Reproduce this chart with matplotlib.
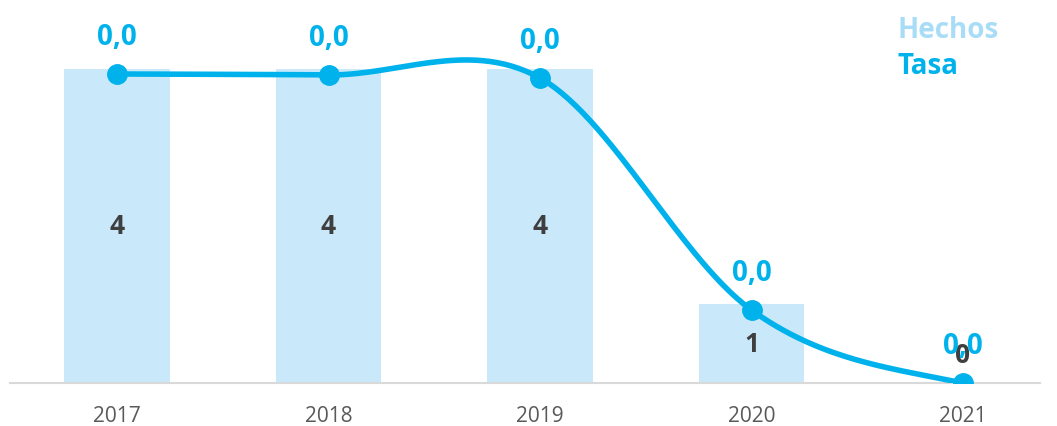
import numpy as np
import matplotlib
matplotlib.use("Agg")
import matplotlib.pyplot as plt

years = ["2017", "2018", "2019", "2020", "2021"]
hechos = [4, 4, 4, 1, 0]
tasa = [0.0130, 0.01296, 0.01283, 0.00307, 0.0]
tasa_labels = ["0,0", "0,0", "0,0", "0,0", "0,0"]

BAR = "#c9e9fb"
LINE = "#00b2ec"
LEG_H = "#a9ddf7"
DARK = "#3f3f3f"
GRAY = "#595959"

plt.rcParams['font.family'] = ['Open Sans', 'DejaVu Sans']

fig = plt.figure(figsize=(10.57, 4.27), dpi=100)
ax = fig.add_axes([10/1057, 43/427, 1030/1057, 384/427])
x = np.arange(len(years))
ax.bar(x, hechos, width=0.5, color=BAR, zorder=1)
ax.set_xlim(-0.506, 4.364)
ax.set_ylim(0, 4.89)
for s in ["top", "right", "left"]:
    ax.spines[s].set_visible(False)
ax.spines["bottom"].set_color("#d9d9d9")
ax.spines["bottom"].set_linewidth(1.5)
ax.set_yticks([])
ax.set_xticks(x)
ax.set_xticklabels(years, fontsize=15, color=GRAY)
ax.tick_params(axis="x", length=0, pad=16)

for xi, v in zip(x, hechos):
    ypos = v / 2 if v > 0 else 0.36
    ax.text(xi, ypos, str(v), ha="center", va="center", fontsize=19,
            fontweight="bold", color=DARK, zorder=4)

ax2 = ax.twinx()
ax2.set_ylim(0, 0.0130 * 384 / 309)
ax2.set_axis_off()

# Catmull-Rom style smooth curve through points
xs = np.array(x, dtype=float)
ys = np.array(tasa, dtype=float)
n = len(xs)
m = np.zeros(n)
for i in range(n):
    if i == 0:
        m[i] = (ys[1] - ys[0])
    elif i == n - 1:
        m[i] = (ys[-1] - ys[-2]) * 0.6
    else:
        m[i] = (ys[i + 1] - ys[i - 1]) / 2
cx, cy = [], []
for i in range(n - 1):
    t = np.linspace(0, 1, 60)
    h00 = 2*t**3 - 3*t**2 + 1
    h10 = t**3 - 2*t**2 + t
    h01 = -2*t**3 + 3*t**2
    h11 = t**3 - t**2
    cx.extend(xs[i] + t)
    cy.extend(h00*ys[i] + h10*m[i] + h01*ys[i+1] + h11*m[i+1])
ax2.plot(cx, cy, color=LINE, linewidth=4, zorder=3, solid_capstyle="round")
ax2.plot(xs, ys, "o", color=LINE, markersize=14, zorder=3)
for xi, v, lab in zip(xs, ys, tasa_labels):
    ax2.annotate(lab, (xi, v), xytext=(0, 27), textcoords="offset points",
                 ha="center", va="center", fontsize=20, fontweight="bold",
                 color=LINE, zorder=5)

fig.text(898/1057, 1 - 30/427, "Hechos", fontsize=20, fontweight="bold",
         color=LEG_H, ha="left", va="center")
fig.text(898/1057, 1 - 67/427, "Tasa", fontsize=20, fontweight="bold",
         color=LINE, ha="left", va="center")

fig.savefig("out.png", dpi=100)
